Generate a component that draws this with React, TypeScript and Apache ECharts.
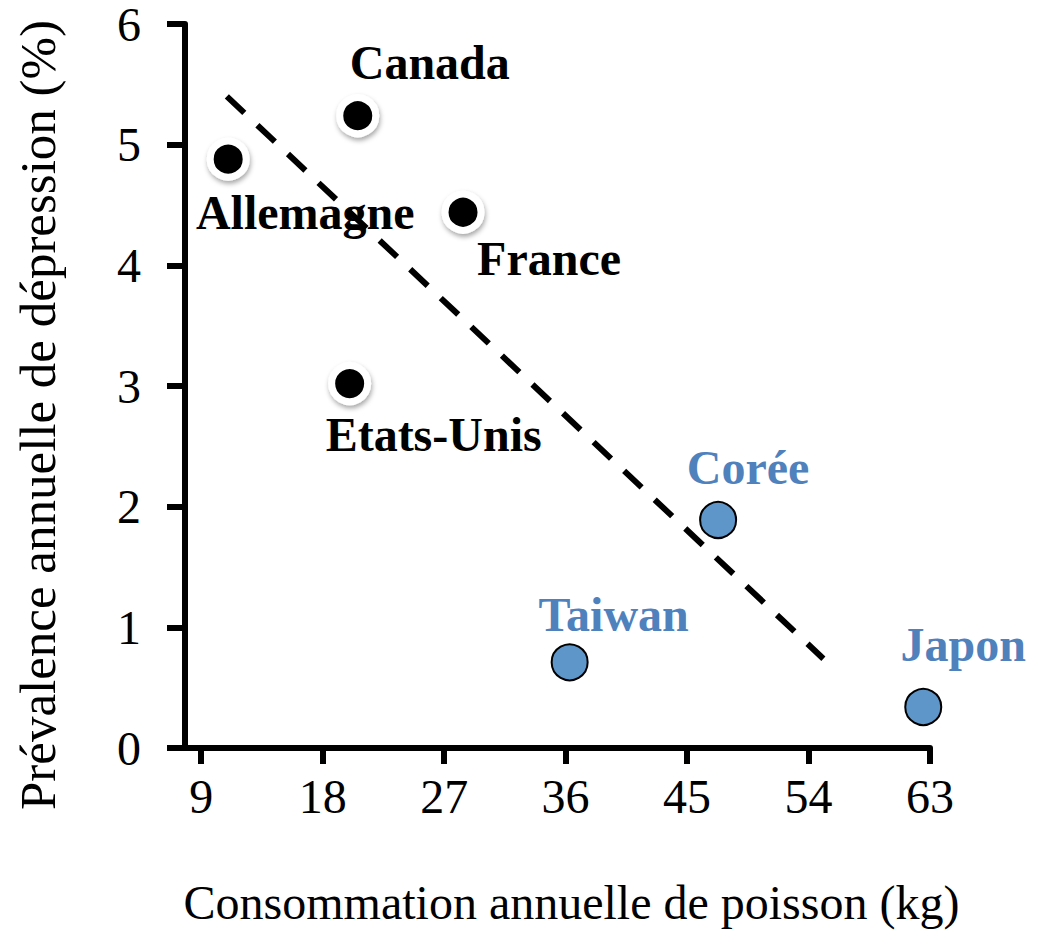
import React, { useEffect, useRef } from "react";
import * as echarts from "echarts";

// ---- data ----
const westernNames = ["Allemagne", "Canada", "France", "Etats-Unis"];
const westernFish = [11.0, 20.6, 28.4, 20.0];
const westernDepression = [4.88, 5.24, 4.44, 3.02];

const asianNames = ["Corée", "Taiwan", "Japon"];
const asianFish = [47.3, 36.3, 62.5];
const asianDepression = [1.89, 0.71, 0.34];

const trendFish = [10.9, 55.1];
const trendDepression = [5.4, 0.74];

const xTicks = [9, 18, 27, 36, 45, 54, 63];

const xTitle = "Consommation annuelle de poisson (kg)";
const yTitle = "Prévalence annuelle de dépression (%)";

// label placement (pixel offsets from each point), style only
const westernLabelOffsets = [
  [77, 53],
  [72, -53],
  [86, 46],
  [84, 51],
];
const asianLabelOffsets = [
  [30, -52],
  [44, -48],
  [40, -62],
];

const SERIF = "'Liberation Serif', 'Times New Roman', serif";
const BLUE_TEXT = "#4F81BD";
const BLUE_FILL = "#5E96CA";

export default function App() {
  const ref = useRef<HTMLDivElement>(null);

  useEffect(() => {
    const chart = echarts.init(ref.current!, null, { renderer: "svg" });

    const westernData = westernNames.map((n, i) => ({
      name: n,
      value: [westernFish[i], westernDepression[i]],
      label: { offset: westernLabelOffsets[i] },
    }));
    const asianData = asianNames.map((n, i) => ({
      name: n,
      value: [asianFish[i], asianDepression[i]],
      label: { offset: asianLabelOffsets[i] },
    }));
    const trendData = trendFish.map((x, i) => [x, trendDepression[i]]);

    chart.setOption({
      animation: false,
      backgroundColor: "#ffffff",
      grid: { left: 185, right: 117, top: 21, bottom: 181 },
      xAxis: {
        type: "value",
        min: 7.8,
        max: 63,
        axisLine: { show: true, onZero: false, lineStyle: { color: "#000", width: 6 } },
        axisTick: {
          show: true,
          customValues: xTicks,
          length: 16,
          lineStyle: { color: "#000", width: 6 },
        },
        axisLabel: {
          customValues: xTicks,
          color: "#000",
          fontSize: 48,
          lineHeight: 40,
          fontFamily: SERIF,
          margin: 28,
        },
        splitLine: { show: false },
        name: xTitle,
        nameLocation: "middle",
        nameGap: 130,
        nameTextStyle: {
          color: "#000",
          fontSize: 48,
          fontFamily: SERIF,
          padding: [0, 0, 0, 28],
        },
      },
      yAxis: {
        type: "value",
        min: 0,
        max: 6,
        interval: 1,
        axisLine: { show: true, onZero: false, lineStyle: { color: "#000", width: 6 } },
        axisTick: { show: true, length: 18, lineStyle: { color: "#000", width: 6 } },
        axisLabel: {
          color: "#000",
          fontSize: 48,
          lineHeight: 36,
          fontFamily: SERIF,
          margin: 44,
        },
        splitLine: { show: false },
        name: yTitle,
        nameLocation: "middle",
        nameGap: 122,
        nameTextStyle: {
          color: "#000",
          fontSize: 51,
          fontFamily: SERIF,
          padding: [0, 58, 0, 0],
        },
      },
      series: [
        {
          type: "line",
          data: trendData,
          symbol: "none",
          silent: true,
          z: 1,
          lineStyle: { color: "#000", width: 6, type: [24, 18], cap: "butt" },
        },
        {
          type: "scatter",
          data: westernData,
          symbol: "circle",
          symbolSize: 36,
          z: 3,
          itemStyle: {
            color: "#000",
            borderColor: "#fff",
            borderWidth: 7,
            shadowColor: "rgba(0,0,0,0.35)",
            shadowBlur: 5,
            shadowOffsetX: 1,
            shadowOffsetY: 3,
            opacity: 1,
          },
          label: {
            show: true,
            position: "inside",
            formatter: "{b}",
            color: "#000",
            fontSize: 48,
            fontWeight: "bold",
            fontFamily: SERIF,
            textBorderWidth: 0,
          },
        },
        {
          type: "scatter",
          data: asianData,
          symbol: "circle",
          symbolSize: 36,
          z: 3,
          itemStyle: {
            color: BLUE_FILL,
            borderColor: "#000",
            borderWidth: 2,
            opacity: 1,
          },
          label: {
            show: true,
            position: "inside",
            formatter: "{b}",
            color: BLUE_TEXT,
            fontSize: 48,
            fontWeight: "bold",
            fontFamily: SERIF,
            textBorderWidth: 0,
          },
        },
      ],
    });

    return () => chart.dispose();
  }, []);

  return (
    <div
      ref={ref}
      style={{
        position: "fixed",
        left: 0,
        top: 0,
        width: 1047,
        height: 931,
        background: "#fff",
      }}
    />
  );
}
